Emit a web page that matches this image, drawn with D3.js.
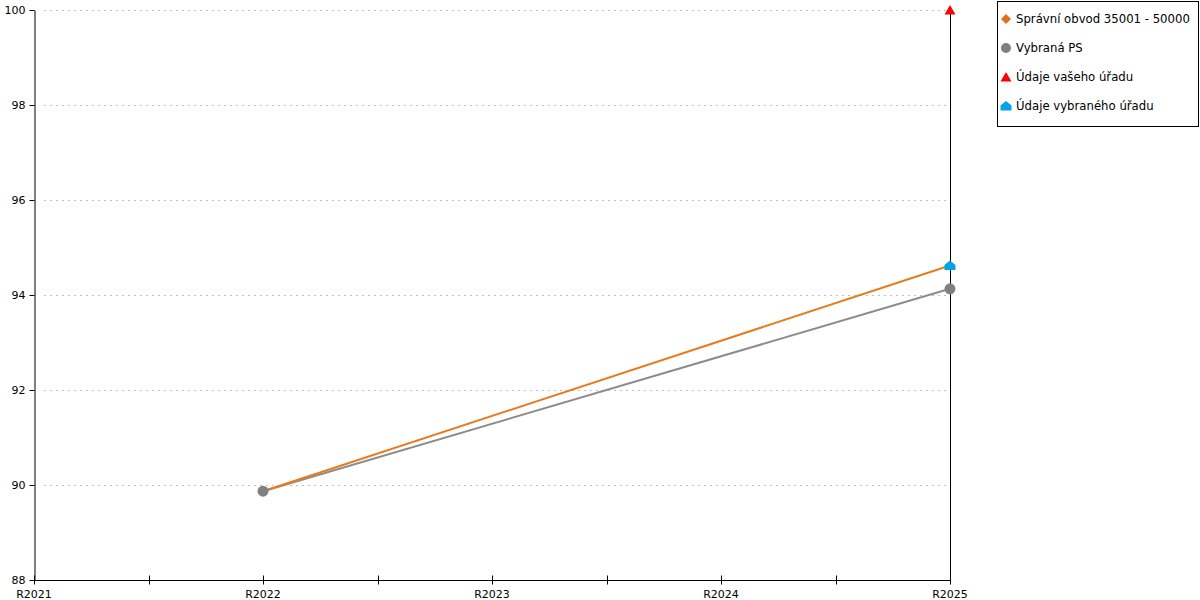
<!DOCTYPE html>
<html><head><meta charset="utf-8">
<script src="https://cdn.jsdelivr.net/npm/d3@7"></script>
<style>body{margin:0;background:#fff}svg{display:block;font-family:"DejaVu Sans",Verdana,sans-serif}</style>
</head><body><svg id="c" width="1200" height="600"></svg>
<script>
const categories = ["R2021","R2022","R2023","R2024","R2025"];
const obvodValues = [null, 89.87, null, null, 94.62];
const psValues = [null, 89.87, null, null, 94.13];
const vasUradValues = [null, null, null, null, 100];
const vybranyUradValues = [null, null, null, null, 94.62];
const yTicks = [88, 90, 92, 94, 96, 98, 100];
const legendLabels = ["Správní obvod 35001 - 50000","Vybraná PS","Údaje vašeho úřadu","Údaje vybraného úřadu"];

const svg = d3.select("#c");
const x = d3.scaleLinear().domain([0, categories.length-1]).range([34, 950]);
const y = d3.scaleLinear().domain([88, 100]).range([580, 10]);

// grid
svg.append("g").selectAll("line").data(yTicks.filter(v=>v>88)).join("line")
  .attr("x1", 44).attr("x2", 950).attr("y1", d=>y(d)+0.5).attr("y2", d=>y(d)+0.5)
  .attr("stroke", "#c0c0c0").attr("stroke-dasharray", "2,4");

// y axis
const yAxis = svg.append("g").attr("transform","translate(34.5,0)")
  .call(d3.axisLeft(y).tickValues(yTicks).tickSize(5).tickSizeOuter(0).tickPadding(4));
yAxis.select(".domain").attr("stroke","#000");
yAxis.selectAll("text").attr("font-size", 11).attr("fill","#000").attr("font-family","DejaVu Sans, Verdana, sans-serif");
// right line
svg.append("line").attr("x1",950.5).attr("x2",950.5).attr("y1",y(100)).attr("y2",580).attr("stroke","#000");

// x axis
const xTickVals = d3.range(0, categories.length-0.99, 0.5);
const xAxisG = svg.append("g").attr("transform","translate(0,580.5)");
xAxisG.append("line").attr("x1",34).attr("x2",950).attr("stroke","#000");
xAxisG.selectAll("line.t").data(xTickVals).join("line").attr("class","t")
  .attr("x1", d=>Math.round(x(d))+0.5).attr("x2", d=>Math.round(x(d))+0.5)
  .attr("y1", -5).attr("y2", 4).attr("stroke","#000");
xAxisG.selectAll("text").data(categories).join("text")
  .attr("x",(d,i)=>x(i)).attr("y",17).attr("text-anchor","middle")
  .attr("font-size",11).text(d=>d);

function series(vals){ return vals.map((v,i)=>({i,v})).filter(d=>d.v!==null); }
const line = d3.line().x(d=>x(d.i)).y(d=>y(d.v));

svg.append("path").datum(series(psValues)).attr("d",line).attr("fill","none").attr("stroke","#8c8c8c").attr("stroke-width",2);
svg.append("path").datum(series(obvodValues)).attr("d",line).attr("fill","none").attr("stroke","#e87a1e").attr("stroke-width",2);

const diamond = "M0,-5 L5,0 L0,5 L-5,0 Z";
const tri = "M0,-5 L5.5,4.5 L-5.5,4.5 Z";
const house = "M0,-5 L5.5,-0.5 L5.5,4.5 L-5.5,4.5 L-5.5,-0.5 Z";

svg.append("g").selectAll("path").data(series(obvodValues)).join("path")
  .attr("transform",d=>`translate(${x(d.i)},${y(d.v)})`).attr("d",diamond).attr("fill","#e07020");
svg.append("g").selectAll("circle").data(series(psValues)).join("circle")
  .attr("cx",d=>x(d.i)).attr("cy",d=>y(d.v)).attr("r",5.5).attr("fill","#808080");
svg.append("g").selectAll("path").data(series(vasUradValues)).join("path")
  .attr("transform",d=>`translate(${x(d.i)},${y(d.v)})`).attr("d",tri).attr("fill","#ff0000");
svg.append("g").selectAll("path").data(series(vybranyUradValues)).join("path")
  .attr("transform",d=>`translate(${x(d.i)},${y(d.v)})`).attr("d",house).attr("fill","#00a2e8");

// legend
const lg = svg.append("g");
lg.append("rect").attr("x",997.5).attr("y",1.5).attr("width",201).attr("height",125).attr("fill","#fff").attr("stroke","#000");
const ly = [19, 48, 77, 106];
lg.append("path").attr("transform",`translate(1006,${ly[0]})`).attr("d",diamond).attr("fill","#e07020");
lg.append("circle").attr("cx",1006).attr("cy",ly[1]).attr("r",5).attr("fill","#808080");
lg.append("path").attr("transform",`translate(1006,${ly[2]})`).attr("d",tri).attr("fill","#ff0000");
lg.append("path").attr("transform",`translate(1006,${ly[3]})`).attr("d",house).attr("fill","#00a2e8");
lg.selectAll("text").data(legendLabels).join("text")
  .attr("x",1016).attr("y",(d,i)=>ly[i]+4).attr("font-size",11.7).text(d=>d);
</script></body></html>
